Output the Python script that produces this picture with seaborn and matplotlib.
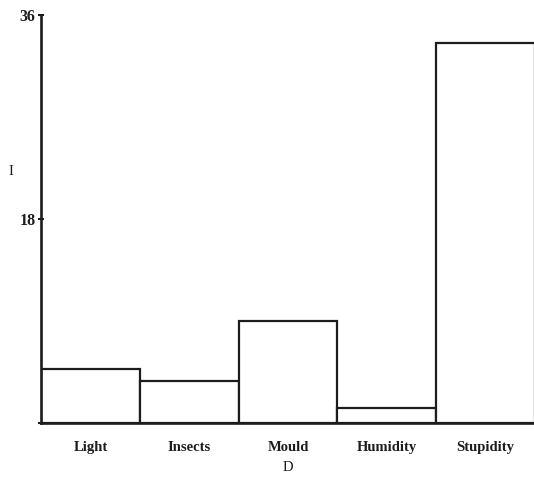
import pandas as pd
from matplotlib import pyplot as plt
import seaborn as sns

# causes of damage (reading from the bars)
causes = ['Light', 'Insects', 'Mould', 'Humidity', 'Stupidity']
damage = [4.8, 3.7, 9.0, 1.3, 33.5]
y_ticks = [0, 18, 36]
y_ticklabels = ['', '18', '36']

df = pd.DataFrame({'cause': causes, 'damage': damage})

sns.set_style('ticks')
plt.rcParams['font.family'] = ['Liberation Serif', 'DejaVu Serif']
plt.rcParams['font.weight'] = 'bold'

ink = '#1c1c1c'

fig = plt.figure(figsize=(5.34, 4.78), dpi=100)
ax = fig.add_axes([0.0768, 0.115, 0.9232, 0.8536])

sns.barplot(data=df, x='cause', y='damage', width=1.0, color='white',
            saturation=1, edgecolor=ink, linewidth=1.6, ax=ax)

# cut the last bar's right edge off, as in the scan
ax.set_xlim(-0.5, 4.49)
ax.set_ylim(0, 36)
ax.set_yticks(y_ticks, labels=y_ticklabels)

sns.despine(ax=ax, top=True, right=True)
for side in ['left', 'bottom']:
    ax.spines[side].set_color(ink)
    ax.spines[side].set_linewidth(1.9)

ax.tick_params(axis='x', length=0, pad=13, labelsize=10.5, colors=ink)
ax.tick_params(axis='y', length=4, width=1.5, direction='inout', pad=2,
               labelsize=11.5, colors=ink)
for lbl in ax.get_xticklabels() + ax.get_yticklabels():
    lbl.set_fontweight('bold')

ax.set_xlabel('D', fontsize=10.5, color=ink, labelpad=5)
ax.set_ylabel('I', fontsize=10.5, color=ink, rotation=0)
ax.yaxis.set_label_coords(-0.061, 0.6)

plt.savefig('out.png', dpi=100)
